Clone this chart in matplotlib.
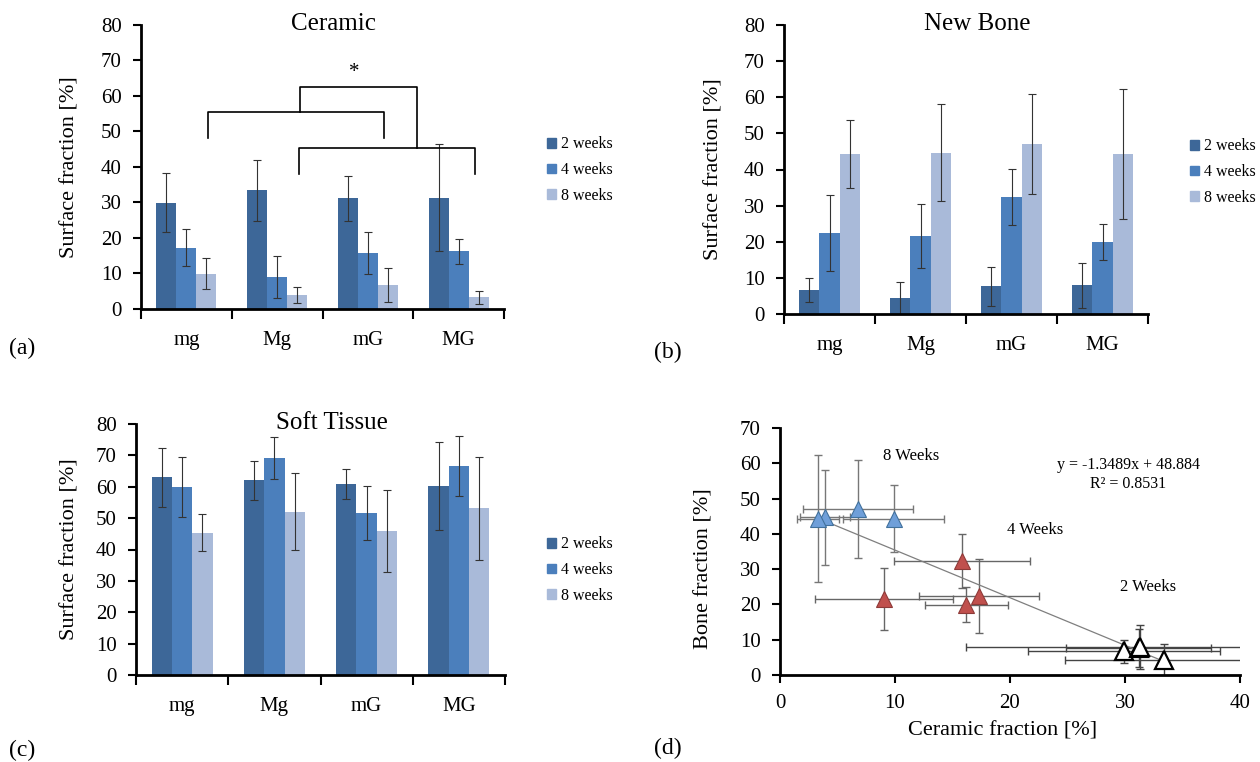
import numpy as np
import matplotlib
matplotlib.use("Agg")
import matplotlib.pyplot as plt
from matplotlib.patches import Patch

plt.rcParams['font.family'] = ['Liberation Serif', 'DejaVu Serif']

groups = ['mg', 'Mg', 'mG', 'MG']
weeks = ['2 weeks', '4 weeks', '8 weeks']

# ceramic surface fraction (mean, sd) per week, groups in order above
ceramic_2w = [29.9, 33.4, 31.2, 31.3]
ceramic_2w_err = [8.35, 8.6, 6.3, 15.1]
ceramic_4w = [17.3, 9.0, 15.8, 16.2]
ceramic_4w_err = [5.2, 6.0, 5.9, 3.6]
ceramic_8w = [9.9, 3.9, 6.8, 3.3]
ceramic_8w_err = [4.4, 2.2, 4.8, 1.8]

# new bone
bone_2w = [6.7, 4.3, 7.7, 7.9]
bone_2w_err = [3.25, 4.6, 5.4, 6.3]
bone_4w = [22.5, 21.6, 32.4, 19.9]
bone_4w_err = [10.5, 8.8, 7.7, 5.0]
bone_8w = [44.3, 44.7, 47.0, 44.3]
bone_8w_err = [9.5, 13.5, 13.9, 18.0]

# soft tissue
soft_2w = [63.0, 62.0, 60.8, 60.3]
soft_2w_err = [9.45, 6.35, 4.85, 14.1]
soft_4w = [59.8, 69.2, 51.6, 66.7]
soft_4w_err = [9.6, 6.8, 8.65, 9.5]
soft_8w = [45.4, 52.1, 46.0, 53.2]
soft_8w_err = [5.9, 12.15, 13.1, 16.4]

# linear fit printed on panel (d)
fit_slope = -1.3489
fit_intercept = 48.884

# significance bracket in panel (a), (x, y) in group units / %
bracket1_x = [0.243, 0.243, 2.18, 2.18]
bracket1_y = [48.3, 55.6, 55.6, 48.3]
bracket2_x = [1.246, 1.246, 3.18, 3.18]
bracket2_y = [38.0, 45.3, 45.3, 38.0]
link_x = [1.254, 1.254, 2.54, 2.54]
link_y = [55.6, 62.5, 62.5, 45.3]

colors = ['#3d6798', '#4b7fbc', '#a9bad9']
W, H = 1260, 762

fig = plt.figure(figsize=(12.6, 7.62), dpi=100)


def px_axes(left, right, top, bottom):
    return fig.add_axes([left / W, (H - bottom) / H, (right - left) / W, (bottom - top) / H])


def style(ax):
    for s in ['top', 'right']:
        ax.spines[s].set_visible(False)
    for s in ['left', 'bottom']:
        ax.spines[s].set_linewidth(2)
    ax.tick_params(axis='y', direction='out', length=6, width=1.5, labelsize=15, pad=8)


def bar_panel(ax, series, errs, title, ylabel_x, legend_xy):
    style(ax)
    x = np.arange(len(groups))
    bw = 0.22
    for k in range(3):
        ax.bar(x + (k - 1) * bw, series[k], bw, color=colors[k], label=weeks[k],
               yerr=errs[k], error_kw=dict(ecolor='#333333', elinewidth=0.8, capsize=3, capthick=0.8))
    ax.set_xlim(-0.5, 3.5)
    ax.set_ylim(0, 80)
    ax.set_yticks(np.arange(0, 81, 10))
    ax.set_xticks(np.arange(-0.5, 3.6, 1))
    ax.set_xticklabels([])
    ax.tick_params(axis='x', which='major', direction='out', length=7, width=1.5)
    ax.set_xticks(x, minor=True)
    ax.set_xticklabels(groups, minor=True, fontsize=15)
    ax.tick_params(axis='x', which='minor', length=0, pad=16)
    ax.set_ylabel('Surface fraction [%]', fontsize=16)
    ax.yaxis.set_label_coords(ylabel_x, 0.5)
    ax.text(0.53, 1.005, title, transform=ax.transAxes, ha='center', va='center', fontsize=18)
    handles = [Patch(color=c) for c in colors]
    ax.legend(handles, weeks, loc='center left', frameon=False, fontsize=11.5,
              bbox_to_anchor=(legend_xy[0] / W, (H - legend_xy[1]) / H), bbox_transform=fig.transFigure,
              handlelength=0.55, handleheight=0.55, handletextpad=0.3, labelspacing=0.6, borderaxespad=0)


ax_a = px_axes(141, 504, 25, 309)
bar_panel(ax_a, [ceramic_2w, ceramic_4w, ceramic_8w], [ceramic_2w_err, ceramic_4w_err, ceramic_8w_err],
          'Ceramic', -0.17, (541, 170))
for bx, by in [(bracket1_x, bracket1_y), (bracket2_x, bracket2_y), (link_x, link_y)]:
    ax_a.plot(bx, by, color='black', lw=1.2, clip_on=False)
ax_a.text(1.85, 66.7, '*', ha='center', va='center', fontsize=15)

ax_b = px_axes(784, 1148, 25, 314)
bar_panel(ax_b, [bone_2w, bone_4w, bone_8w], [bone_2w_err, bone_4w_err, bone_8w_err],
          'New Bone', -0.165, (1184, 172))

ax_c = px_axes(136, 505, 424, 675)
bar_panel(ax_c, [soft_2w, soft_4w, soft_8w], [soft_2w_err, soft_4w_err, soft_8w_err],
          'Soft Tissue', -0.152, (541, 570))

# panel (d): bone vs ceramic
ax_d = px_axes(780, 1240, 428, 675)
style(ax_d)
ax_d.tick_params(axis='x', direction='out', length=6, width=1.5, labelsize=15, pad=8)
cer = [ceramic_2w, ceramic_4w, ceramic_8w]
cer_err = [ceramic_2w_err, ceramic_4w_err, ceramic_8w_err]
bon = [bone_2w, bone_4w, bone_8w]
bon_err = [bone_2w_err, bone_4w_err, bone_8w_err]
face = ['white', '#c0504d', '#6f9fd9']
edge = ['black', '#8e3a38', '#41719c']
msize = [13, 11, 11]
ecol = ['#444444', '#666666', '#777777']
for k in range(3):
    ax_d.errorbar(cer[k], bon[k], xerr=cer_err[k], yerr=bon_err[k], fmt='none',
                  ecolor=ecol[k], elinewidth=1, capsize=3, capthick=1)
all_x = np.concatenate(cer)
xf = np.array([all_x.min(), all_x.max()])
ax_d.plot(xf, fit_slope * xf + fit_intercept, color='#7f7f7f', lw=0.9)
for k in range(3):
    ax_d.plot(cer[k], bon[k], '^', ms=msize[k], mfc=face[k], mec=edge[k], mew=1.6 if k == 0 else 0.8,
              ls='none')
ax_d.set_xlim(0, 40)
ax_d.set_ylim(0, 70)
ax_d.set_xticks(np.arange(0, 41, 10))
ax_d.set_yticks(np.arange(0, 71, 10))
ax_d.set_xlabel('Ceramic fraction [%]', fontsize=16)
ax_d.xaxis.set_label_coords(0.483, -0.19)
ax_d.set_ylabel('Bone fraction [%]', fontsize=16)
ax_d.yaxis.set_label_coords(-0.145, 0.43)
ax_d.text(11.4, 62.1, '8 Weeks', ha='center', va='center', fontsize=12)
ax_d.text(22.2, 41.2, '4 Weeks', ha='center', va='center', fontsize=12)
ax_d.text(32.0, 24.8, '2 Weeks', ha='center', va='center', fontsize=12)
ax_d.text(30.3, 59.5, 'y = %.4fx + %.3f' % (fit_slope, fit_intercept), ha='center', va='center', fontsize=11.5)
ax_d.text(30.3, 54.0, 'R² = 0.8531', ha='center', va='center', fontsize=11.5)

# panel letters
for lab, (px, py) in zip(['(a)', '(b)', '(c)', '(d)'], [(22, 348), (668, 352), (22, 750), (668, 748)]):
    fig.text(px / W, (H - py) / H, lab, ha='center', va='center', fontsize=17)

fig.savefig('out.png', dpi=100)
